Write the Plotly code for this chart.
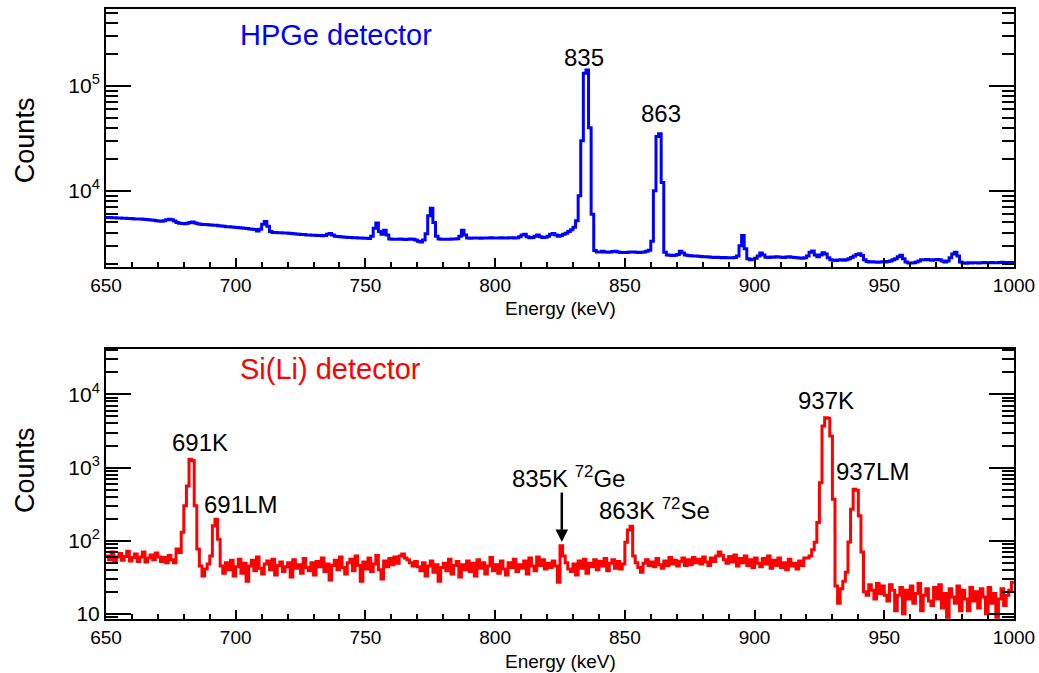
import numpy as np
import plotly.graph_objects as go
from plotly.subplots import make_subplots

# ---------------- data (1 keV bins, left edges 650 ... 999) ----------------
energy_start = 650
energy_stop = 1000

hpge_counts = [
    5570, 5560, 5540, 5550, 5520, 5500, 5480, 5490, 5460, 5440,
    5420, 5400, 5390, 5380, 5350, 5330, 5300, 5280, 5260, 5200,
    5150, 5120, 5180, 5300, 5370, 5300, 5150, 5000, 4900, 4880,
    4870, 4900, 5000, 5060, 4950, 4850, 4800, 4790, 4780, 4760,
    4730, 4700, 4690, 4650, 4620, 4600, 4560, 4550, 4530, 4500,
    4480, 4450, 4420, 4400, 4380, 4330, 4300, 4280, 4150, 4300,
    4800, 5100, 4600, 4100, 4020, 4000, 3990, 3980, 3970, 3960,
    3950, 3930, 3900, 3880, 3860, 3840, 3830, 3800, 3790, 3780,
    3770, 3760, 3750, 3740, 3760, 3850, 3920, 3800, 3700, 3680,
    3650, 3640, 3620, 3600, 3590, 3580, 3570, 3560, 3550, 3540,
    3530, 3520, 3700, 4400, 4940, 4100, 3850, 4220, 3800, 3480,
    3460, 3450, 3460, 3470, 3450, 3440, 3460, 3470, 3450, 3400,
    3300, 3250, 3400, 3900, 5800, 6840, 5000, 3700, 3480, 3460,
    3450, 3460, 3450, 3470, 3480, 3500, 3700, 4220, 3800, 3550,
    3540, 3550, 3560, 3550, 3540, 3560, 3550, 3560, 3570, 3560,
    3550, 3560, 3570, 3560, 3550, 3570, 3580, 3560, 3570, 3650,
    3800, 3850, 3650, 3580, 3600, 3700, 3800, 3650, 3600, 3620,
    3700, 3850, 3920, 3800, 3700, 3750, 3850, 3950, 4100, 4250,
    4500, 5200, 9000, 30000, 132000, 142000, 40000, 6000, 2700, 2620,
    2610, 2650, 2620, 2600, 2610, 2640, 2660, 2620, 2590, 2580,
    2590, 2600, 2620, 2610, 2600, 2590, 2600, 2610, 2650, 2720,
    3300, 10000, 33000, 35000, 12000, 2600, 2450, 2430, 2420, 2440,
    2480, 2650, 2550, 2450, 2420, 2410, 2400, 2390, 2380, 2370,
    2360, 2350, 2340, 2330, 2320, 2330, 2320, 2310, 2320, 2310,
    2300, 2310, 2320, 2400, 3000, 3750, 2800, 2250, 2210, 2230,
    2280, 2400, 2560, 2450, 2330, 2320, 2340, 2330, 2350, 2340,
    2330, 2320, 2340, 2350, 2330, 2320, 2300, 2290, 2280, 2300,
    2400, 2600, 2670, 2450, 2350, 2450, 2570, 2500, 2300, 2200,
    2180, 2170, 2190, 2200, 2180, 2200, 2250, 2320, 2400, 2480,
    2520, 2420, 2200, 2120, 2100, 2110, 2100, 2090, 2100, 2110,
    2100, 2120, 2150, 2200, 2250, 2350, 2430, 2250, 2100, 2050,
    2050, 2060, 2100, 2150, 2200, 2210, 2220, 2200, 2180, 2200,
    2220, 2200, 2150, 2100, 2150, 2300, 2500, 2600, 2400, 2100,
    2050, 2040, 2060, 2050, 2070, 2060, 2050, 2070, 2080, 2060,
    2070, 2080, 2070, 2060, 2080, 2090, 2080, 2070, 2080, 2080,
]

sili_counts = [
    62, 55, 70, 52, 60, 67, 54, 61, 72, 53,
    59, 66, 52, 60, 70, 51, 58, 64, 55, 68,
    60, 52, 59, 50, 63, 55, 50, 77, 69, 130,
    300, 560, 1300, 1250, 300, 77, 45, 33, 41, 48,
    62, 160, 197, 105, 45, 36, 50, 40, 54, 33,
    44, 56, 36, 49, 28, 45, 54, 39, 60, 42,
    35, 48, 53, 40, 56, 34, 46, 51, 38, 44,
    50, 32, 55, 42, 47, 36, 57, 43, 39, 50,
    34, 52, 44, 58, 38, 48, 29, 46, 54, 40,
    60, 43, 35, 50, 56, 39, 62, 46, 28, 51,
    41, 58, 38, 48, 63, 40, 30, 53, 44, 57,
    47, 60, 49, 62, 66, 58, 55, 50, 45, 52,
    44, 39, 50, 33, 45, 53, 37, 47, 28, 43,
    49, 39, 56, 35, 46, 52, 32, 47, 40, 53,
    38, 49, 33, 55, 42, 50, 35, 45, 59, 39,
    47, 36, 53, 41, 34, 50, 43, 56, 38, 47,
    42, 53, 35, 58, 45, 39, 60, 46, 55, 41,
    49, 43, 53, 45, 27, 85, 62, 50, 41, 38,
    48, 34, 53, 42, 56, 36, 49, 44, 55, 40,
    52, 45, 57, 39, 49, 55, 42, 52, 41, 48,
    95, 140, 157, 62, 50, 43, 37, 49, 55, 46,
    51, 44, 57, 47, 42, 53, 46, 59, 48, 54,
    45, 52, 58, 46, 55, 47, 59, 50, 56, 48,
    60, 51, 46, 58, 52, 62, 70, 63, 55, 49,
    61, 51, 64, 45, 57, 50, 62, 46, 55, 43,
    58, 49, 44, 57, 48, 62, 42, 54, 46, 58,
    43, 50, 40, 56, 45, 49, 41, 53, 46, 58,
    58, 62, 75, 95, 178, 620, 3700, 4800, 4700, 2700,
    370, 24, 14, 22, 28, 37, 96, 270, 506, 490,
    220, 70, 20, 18, 25, 21, 16, 26, 19, 24,
    18, 15, 25, 21, 11, 18, 23, 10, 21, 16,
    24, 14, 19, 26, 11, 18, 22, 15, 13, 23,
    16, 25, 12, 19, 9, 22, 17, 14, 24, 11,
    21, 16, 11, 23, 15, 20, 12, 22, 17, 10,
    23, 14, 19, 9, 16, 22, 13, 18, 21, 27,
]

x_tick_vals = [650, 700, 750, 800, 850, 900, 950, 1000]
top_major_vals = [1e4, 1e5]
top_major_text = ["10<sup>4</sup>", "10<sup>5</sup>"]
bot_major_vals = [10, 100, 1000, 10000]
bot_major_text = ["10", "10<sup>2</sup>", "10<sup>3</sup>", "10<sup>4</sup>"]

# ---------------- figure ----------------
edges = np.arange(energy_start, energy_stop + 1)
hx = list(edges)
hy = list(hpge_counts) + [hpge_counts[-1]]
sy = list(sili_counts) + [sili_counts[-1]]

FONT = "Liberation Sans, Arial, Helvetica, sans-serif"

fig = make_subplots(rows=2, cols=1, vertical_spacing=0.0)
fig.add_trace(go.Scatter(x=hx, y=hy, mode="lines", line=dict(color="#0000ff", width=3, shape="hv"),
                         showlegend=False, hoverinfo="skip"), row=1, col=1)
fig.add_trace(go.Scatter(x=hx, y=sy, mode="lines", line=dict(color="#ff0000", width=3, shape="hv"),
                         showlegend=False, hoverinfo="skip"), row=2, col=1)

def minor_vals(lo, hi):
    out = []
    d = lo
    while d < hi:
        for m in range(2, 10):
            out.append(m * d)
        d *= 10
    return out

xcommon = dict(range=[650, 1000], tickmode="array", tickvals=x_tick_vals, ticks="inside",
               ticklen=9, tickwidth=2, tickcolor="black", showline=True, linewidth=2,
               linecolor="black", mirror=True, showgrid=False, zeroline=False, automargin=False,
               tickfont=dict(family=FONT, size=19, color="black"),
               minor=dict(tick0=650, dtick=10, ticks="inside", ticklen=5, tickwidth=2,
                          tickcolor="black", showgrid=False))

fig.update_xaxes(**xcommon, row=1, col=1)
fig.update_xaxes(**xcommon, row=2, col=1)

ycommon = dict(type="log", ticks="inside", ticklen=25, tickwidth=2, tickcolor="black",
               showline=True, linewidth=2, linecolor="black", mirror="ticks", automargin=False,
               showgrid=False, zeroline=False, tickmode="array",
               tickfont=dict(family=FONT, size=21, color="black"))

fig.update_yaxes(**ycommon, range=[3.274, 5.733], tickvals=top_major_vals, ticktext=top_major_text,
                 minor=dict(tickmode="array", tickvals=minor_vals(1000, 1e6), ticks="inside",
                            ticklen=12, tickwidth=2, tickcolor="black", showgrid=False),
                 row=1, col=1)
fig.update_yaxes(**ycommon, range=[0.93, 4.62], tickvals=bot_major_vals, ticktext=bot_major_text,
                 minor=dict(tickmode="array", tickvals=minor_vals(1, 1e5), ticks="inside",
                            ticklen=12, tickwidth=2, tickcolor="black", showgrid=False),
                 row=2, col=1)

fig.update_layout(
    width=1039, height=673,
    margin=dict(l=106, r=25, t=9, b=54, autoexpand=False),
    paper_bgcolor="white", plot_bgcolor="white",
    font=dict(family=FONT, color="black"),
)
fig.layout.yaxis.domain = [0.577, 1.0]
fig.layout.yaxis2.domain = [0.0, 0.4426]

def lab(text, x, y, xref, yref, size, color="black"):
    fig.add_annotation(text=text, x=x, y=y, xref=xref, yref=yref, showarrow=False,
                       xanchor="center", yanchor="middle",
                       font=dict(family=FONT, size=size, color=color))

lab("HPGe detector", 738.7, 5.487, "x", "y", 29, "#0000ff")
lab("835", 834.3, 5.267, "x", "y", 24)
lab("863", 864.0, 4.733, "x", "y", 24)

lab("Si(Li) detector", 736.4, 4.341, "x2", "y2", 29, "#ff0000")
lab("691K", 686.2, 3.345, "x2", "y2", 24)
lab("691LM", 701.7, 2.499, "x2", "y2", 24)
lab("835K <sup>72</sup>Ge", 828.1, 2.868, "x2", "y2", 24)
lab("863K <sup>72</sup>Se", 861.3, 2.431, "x2", "y2", 24)
lab("937K", 927.6, 3.918, "x2", "y2", 24)
lab("937LM", 945.3, 2.95, "x2", "y2", 24)

fig.add_annotation(text="", x=825.7, y=1.981, xref="x2", yref="y2", ax=0, ay=-51,
                   showarrow=True, arrowhead=2, arrowsize=1, arrowwidth=2.5, arrowcolor="black")

for yp in (0.785, 0.2443):
    fig.add_annotation(text="Counts", x=-0.0892, y=yp, xref="paper", yref="paper", showarrow=False,
                       xanchor="center", yanchor="middle",
                       textangle=-90, font=dict(family=FONT, size=27, color="black"))
for yp in (0.5098, -0.0689):
    fig.add_annotation(text="Energy (keV)", x=0.5011, y=yp, xref="paper", yref="paper",
                       xanchor="center", yanchor="middle",
                       showarrow=False, font=dict(family=FONT, size=19, color="black"))

fig.write_html("out.html", config={"displayModeBar": False},
               post_script="document.body.style.margin='0px';document.body.style.overflow='hidden';")
